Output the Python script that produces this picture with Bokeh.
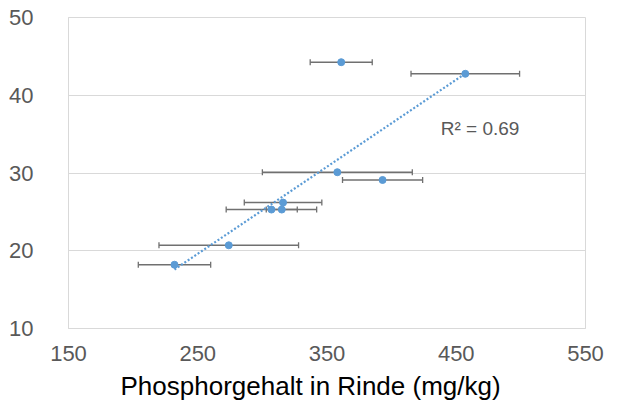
import numpy as np
from bokeh.plotting import figure
from bokeh.models import ColumnDataSource, Whisker, TeeHead, Label, FixedTicker, Title
from bokeh.embed import file_html
from bokeh.resources import INLINE

# data
phosphor = [361, 457, 358, 393, 316, 307, 315, 274, 232]
values = [44.25, 42.76, 30.1, 29.1, 26.2, 25.3, 25.3, 20.7, 18.2]
phosphor_err = [24, 42, 58, 31, 30, 35, 12, 54, 28]
x_ticks = [150, 250, 350, 450, 550]
y_ticks = [10, 20, 30, 40, 50]
r2_text = "R² = 0.69"
x_title = "Phosphorgehalt in Rinde (mg/kg)"

FONT = "Liberation Sans"

p = figure(width=617, height=408, output_backend="svg", toolbar_location=None,
           x_range=(150, 550), y_range=(10, 50),
           min_border_left=68, min_border_right=32, min_border_top=17, min_border_bottom=80)

p.background_fill_color = "white"
p.border_fill_color = "white"
p.outline_line_color = "#d9d9d9"
p.outline_line_width = 1

p.xgrid.visible = False
p.ygrid.grid_line_color = "#d9d9d9"
p.ygrid.grid_line_width = 1

for ax in (p.xaxis, p.yaxis):
    ax.axis_line_color = "#d9d9d9"
    ax.major_tick_line_color = None
    ax.minor_tick_line_color = None
    ax.major_label_text_font = FONT
    ax.major_label_text_font_size = "22px"
    ax.major_label_text_color = "#595959"

p.xaxis.ticker = FixedTicker(ticks=x_ticks)
p.yaxis.ticker = FixedTicker(ticks=y_ticks)
p.xaxis.major_label_standoff = 11
p.yaxis.major_label_standoff = 29

src = ColumnDataSource(dict(
    x=phosphor, y=values,
    lo=[a - e for a, e in zip(phosphor, phosphor_err)],
    hi=[a + e for a, e in zip(phosphor, phosphor_err)],
))

w = Whisker(source=src, base="y", lower="lo", upper="hi", dimension="width",
            line_color="#707070", line_width=1.6,
            lower_head=TeeHead(size=6, line_color="#707070", line_width=1.3),
            upper_head=TeeHead(size=6, line_color="#707070", line_width=1.3))
p.add_layout(w)

# linear trendline
coef = np.polyfit(phosphor, values, 1)
tx = [min(phosphor), max(phosphor)]
ty = [coef[0] * t + coef[1] for t in tx]
p.line(tx, ty, line_color="#5b9bd5", line_width=2.2, line_dash="2 2")

p.scatter("x", "y", source=src, size=7, fill_color="#5b9bd5", line_color="#5b9bd5")

p.add_layout(Label(x=438, y=35.7, text=r2_text, text_font=FONT, text_font_size="19px",
                   text_color="#595959", text_baseline="middle", text_align="left"))

# axis title, shifted so it is centred on the whole figure as in the reference
p.add_layout(Title(text=x_title, align="left", offset=52, standoff=11,
                   text_font=FONT, text_font_size="26px", text_font_style="normal",
                   text_color="black"), "below")

open("out.html", "w").write(file_html(p, INLINE))
